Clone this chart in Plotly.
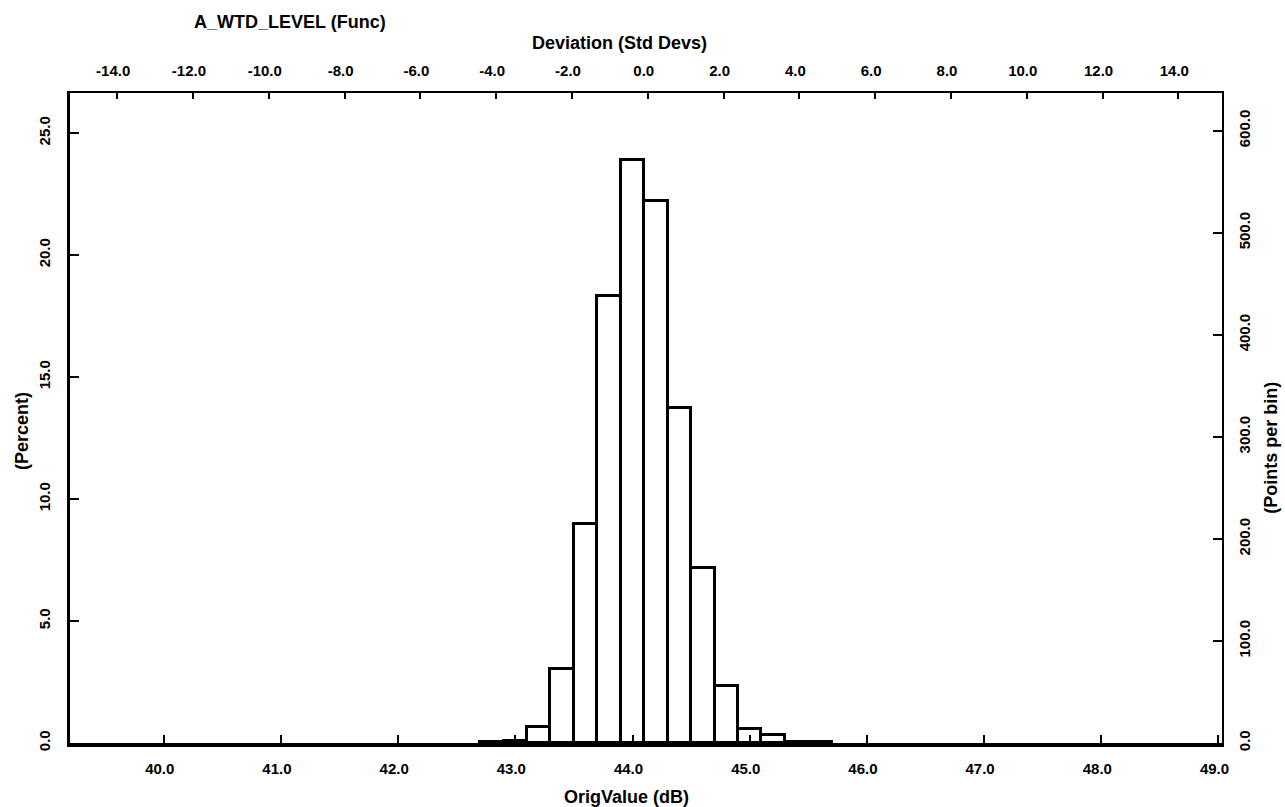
import plotly.graph_objects as go

# ---- data ----
BIN_CENTERS = [42.8, 43.0, 43.2, 43.4, 43.6, 43.8, 44.0, 44.2, 44.4, 44.6, 44.8, 45.0, 45.2, 45.4, 45.6]
PERCENT = [0.03, 0.10, 0.67, 3.02, 8.98, 18.33, 23.89, 22.23, 13.72, 7.16, 2.35, 0.57, 0.33, 0.06, 0.03]
BIN_WIDTH = 0.2
TOTAL_POINTS = 2392          # points in the whole histogram
DEV_MEAN = 44.13             # dB at 0 std devs
DEV_STD = 0.3234             # dB per std dev

X_TICKS = [40.0, 41.0, 42.0, 43.0, 44.0, 45.0, 46.0, 47.0, 48.0, 49.0]
DEV_TICKS = [-14, -12, -10, -8, -6, -4, -2, 0, 2, 4, 6, 8, 10, 12, 14]
PCT_TICKS = [0, 5, 10, 15, 20, 25]
PTS_TICKS = [0, 100, 200, 300, 400, 500, 600]

X_RANGE = [39.2, 49.03]
PCT_RANGE = [0, 26.64]
PTS_RANGE = [0, 637]

FONT = "Liberation Sans"
tick_font = dict(family=FONT, size=15, color="black", weight="bold")
title_font = dict(family=FONT, size=18, color="black", weight="bold")

dev_vals = [(c - DEV_MEAN) / DEV_STD for c in BIN_CENTERS]
points = [p * TOTAL_POINTS / 100 for p in PERCENT]

fig = go.Figure()
fig.add_bar(
    x=BIN_CENTERS, y=PERCENT, width=BIN_WIDTH,
    marker=dict(color="white", line=dict(color="black", width=3)),
    xaxis="x", yaxis="y", showlegend=False, hoverinfo="x+y",
)
fig.add_scatter(
    x=dev_vals, y=points, xaxis="x2", yaxis="y2", mode="markers",
    marker=dict(opacity=0), showlegend=False, hoverinfo="skip",
)

common = dict(showgrid=False, zeroline=False, showline=True, linecolor="black",
              ticks="inside", tickcolor="black", tickwidth=2, tickfont=tick_font)

fig.update_layout(
    width=1285, height=807,
    margin=dict(l=70, r=63, t=93, b=64),
    paper_bgcolor="white", plot_bgcolor="white",
    bargap=0,
    xaxis=dict(range=X_RANGE, tickvals=X_TICKS, ticktext=[f"{v:.1f}" for v in X_TICKS],
               linewidth=4, ticklen=8, ticklabelstandoff=9, ticklabelshift=-4, **common),
    xaxis2=dict(range=[(X_RANGE[0] - DEV_MEAN) / DEV_STD, (X_RANGE[1] - DEV_MEAN) / DEV_STD],
                overlaying="x", side="top", anchor="y",
                tickvals=DEV_TICKS, ticktext=[f"{v:.1f}" for v in DEV_TICKS],
                linewidth=2, ticklen=6, ticklabelstandoff=9, ticklabelshift=-4, **common),
    yaxis=dict(range=PCT_RANGE, tickvals=PCT_TICKS, ticktext=[f"{v:.1f}" for v in PCT_TICKS],
               tickangle=-90, linewidth=3, ticklen=9, ticklabelstandoff=11, **common),
    yaxis2=dict(range=PTS_RANGE, overlaying="y", side="right", anchor="x",
                tickvals=PTS_TICKS, ticktext=[f"{v:.1f}" for v in PTS_TICKS],
                tickangle=-90, linewidth=2, ticklen=9, ticklabelstandoff=8, **common),
    annotations=[
        dict(text="A_WTD_LEVEL (Func)", xref="paper", yref="paper", x=0.191, y=1.109,
             xanchor="center", yanchor="middle", showarrow=False, font=title_font),
        dict(text="Deviation (Std Devs)", xref="paper", yref="paper", x=0.4766, y=1.077,
             xanchor="center", yanchor="middle", showarrow=False, font=title_font),
        dict(text="OrigValue (dB)", xref="paper", yref="paper", x=0.4835, y=-0.083,
             xanchor="center", yanchor="middle", showarrow=False, font=title_font),
        dict(text="(Percent)", xref="paper", yref="paper", x=-0.0417, y=0.48,
             xanchor="center", yanchor="middle", textangle=-90, showarrow=False, font=title_font),
        dict(text="(Points per bin)", xref="paper", yref="paper", x=1.0425, y=0.454,
             xanchor="center", yanchor="middle", textangle=-90, showarrow=False, font=title_font),
    ],
)

fig.write_html("out.html")
